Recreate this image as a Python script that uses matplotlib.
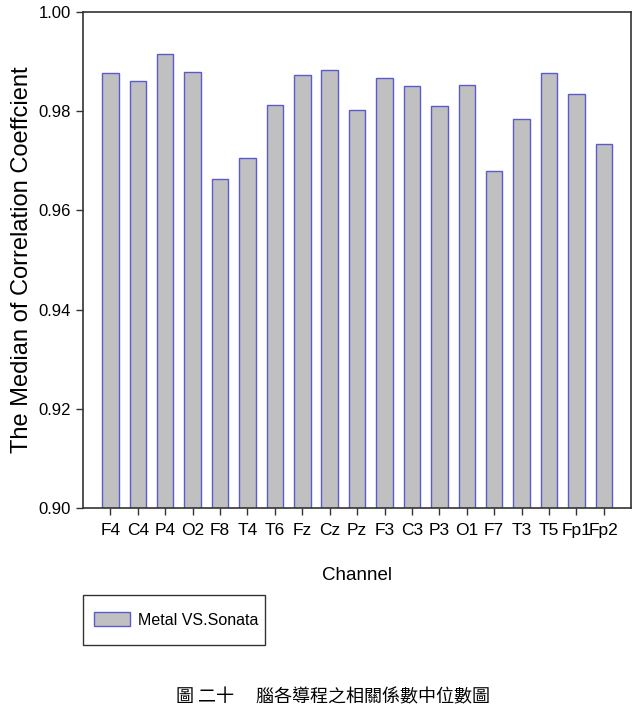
import matplotlib
matplotlib.use('Agg')
import matplotlib.pyplot as plt
from matplotlib.patches import Rectangle
import numpy as np

channels = ['F4', 'C4', 'P4', 'O2', 'F8', 'T4', 'T6', 'Fz', 'Cz', 'Pz',
            'F3', 'C3', 'P3', 'O1', 'F7', 'T3', 'T5', 'Fp1', 'Fp2']
medians = [0.9876, 0.9861, 0.9915, 0.9879, 0.9663, 0.9705, 0.9812, 0.9872,
           0.9884, 0.9803, 0.9866, 0.9851, 0.9810, 0.9853, 0.9679, 0.9784,
           0.9877, 0.9835, 0.9733]
yticks = [0.90, 0.92, 0.94, 0.96, 0.98, 1.00]
series_name = 'Metal VS.Sonata'
caption = '圖 二十　 腦各導程之相關係數中位數圖'

plt.rcParams['font.family'] = ['Liberation Sans', 'DejaVu Sans']

fig = plt.figure(figsize=(6.36, 7.18), dpi=100)
ax = fig.add_axes([0.1305, 0.2925, 0.862, 0.6908])

x = np.arange(len(channels))
ax.bar(x, medians, width=0.6, color='#c0c0c0', edgecolor='#5a5ad0',
       linewidth=1.0, label=series_name)

ax.set_xlim(-1, len(channels))
ax.set_ylim(0.90, 1.00)
ax.set_yticks(yticks)
ax.set_yticklabels(['%.2f' % v for v in yticks])
ax.set_xticks(x)
ax.set_xticklabels(channels)
ax.tick_params(axis='x', labelsize=12.5, pad=6)
ax.tick_params(axis='y', labelsize=12)
ax.tick_params(axis='both', direction='out', length=5, width=1, color='#333333')
for s in ax.spines.values():
    s.set_color('#333333')
    s.set_linewidth(1.2)

ax.set_xlabel('Channel', fontsize=13.5, labelpad=21)
ax.set_ylabel('The Median of Correlation Coeffcient', fontsize=17)
ax.yaxis.set_label_coords(-0.092, 0.5)

# legend: text/handle without frame, frame drawn as a box like the original
fig.legend(loc='center left', bbox_to_anchor=(0.1478, 0.1365), fontsize=11.5,
           frameon=False, borderaxespad=0, borderpad=0, handlelength=2.25,
           handleheight=0.94, handletextpad=0.5)
fig.patches.append(Rectangle((0.1305, 0.1017), 0.2862, 0.0696,
                             transform=fig.transFigure, fill=False,
                             edgecolor='#333333', linewidth=1.0))

fig.text(0.524, 0.029, caption, ha='center', va='center', fontsize=13,
         family=['Noto Sans CJK TC', 'DejaVu Sans'])

fig.savefig('out.png', dpi=100)
